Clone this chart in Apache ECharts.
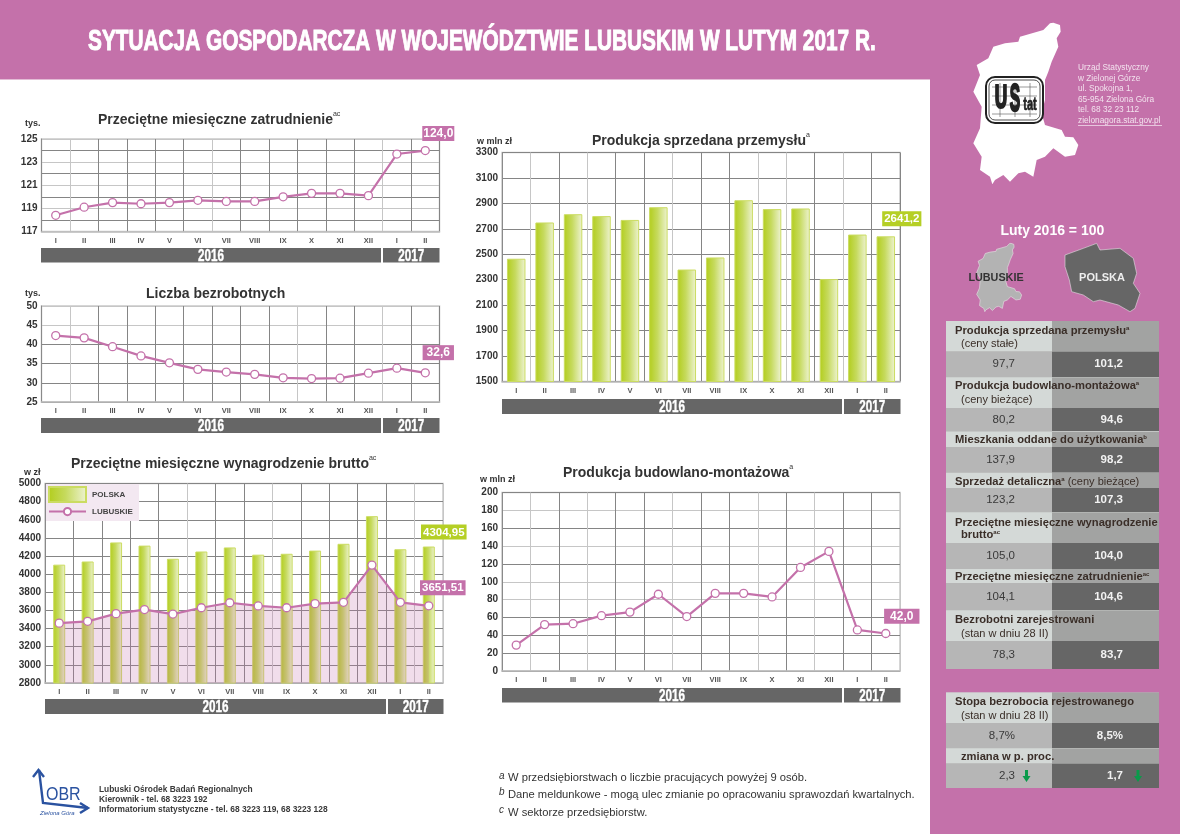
<!DOCTYPE html>
<html><head><meta charset="utf-8"><style>html,body{margin:0;padding:0;background:#fff}#c{width:1180px;height:834px}</style>
<script src="https://cdn.jsdelivr.net/npm/echarts@6/dist/echarts.min.js"></script></head>
<body><div id="c"></div>
<script>
const months = ['I','II','III','IV','V','VI','VII','VIII','IX','X','XI','XII','I','II'];
const zatrudnienie = [118.4,119.1,119.5,119.4,119.5,119.7,119.6,119.6,120.0,120.3,120.3,120.1,123.7,124.0];
const bezrobotni = [42.3,41.7,39.4,37.0,35.2,33.5,32.8,32.2,31.3,31.1,31.2,32.5,33.8,32.6];
const wynagrodzeniePolska = [4105,4140,4350,4315,4170,4250,4295,4215,4225,4260,4335,4640,4275,4304.95];
const wynagrodzenieLubuskie = [3460,3480,3565,3610,3560,3630,3685,3650,3630,3675,3690,4100,3690,3651.51];
const przemysl = [2465,2750,2815,2800,2770,2870,2380,2475,2925,2855,2860,2305,2655,2641.2];
const budownictwo = [29,52,53,62,66,86,61,87,87,83,116,134,46,42.0];

const PINK='#c471aa', GREEN='#b5cf25', BAND='#666666', TXT='#333333';
const FONT='"Liberation Sans",Arial,sans-serif';
const DK='#858585', LT='#c6c6c6';

const grids=[
 {x:41.5,y:139,w:398,h:92.5},
 {x:41.5,y:306,w:398,h:96},
 {x:45,y:483.5,w:398,h:199.5},
 {x:502,y:152.5,w:398,h:229},
 {x:502,y:492.5,w:398,h:178.5}
];
const yCfg=[
 {min:117,max:125,interval:1,show:2,h:[LT,DK,LT,DK,LT,DK,LT,DK,LT]},
 {min:25,max:50,interval:5,show:1,h:[DK,DK,DK,DK,LT,LT]},
 {min:2800,max:5000,interval:200,show:1,h:[DK]},
 {min:1500,max:3300,interval:100,show:2,h:[DK,'rgba(0,0,0,0)']},
 {min:0,max:200,interval:20,show:1,h:[DK,DK,DK,DK,LT,LT,DK,LT,DK,LT,DK]}
];
const vLines=[
 [LT,LT,DK,DK,DK,DK,LT,DK,DK,DK,DK,DK,LT,DK,DK],
 [LT,LT,DK,DK,DK,DK,DK,DK,DK,LT,DK,DK,LT,DK,DK],
 [LT,DK,DK,DK,DK,LT,DK,DK,LT,DK,DK,DK,DK,LT,LT],
 [LT,LT,DK,LT,DK,DK,LT,DK,DK,LT,LT,DK,LT,DK,DK],
 [LT,LT,DK,LT,DK,DK,LT,DK,DK,LT,DK,LT,DK,DK,LT]
];
const grid=grids.map(g=>({left:g.x,top:g.y,width:g.w,height:g.h,show:true,borderColor:'#c9c9c9',borderWidth:1.5,backgroundColor:'#fff'}));
const xAxis=grids.map((g,i)=>({gridIndex:i,type:'category',data:months,boundaryGap:true,
  axisLine:{lineStyle:{color:'#bdbdbd',width:1.5}},axisTick:{show:false},
  axisLabel:{interval:0,fontSize:7.5,fontWeight:'bold',color:'#555',margin:5,fontFamily:FONT},
  splitLine:{show:true,interval:0,lineStyle:{color:vLines[i],width:1}}}));
const yAxis=yCfg.map((c,i)=>({gridIndex:i,type:'value',min:c.min,max:c.max,interval:c.interval,
  axisLine:{show:true,lineStyle:{color:'#8a8a8a',width:1}},
  axisTick:{show:false},
  axisLabel:{fontSize:10,fontWeight:'bold',color:TXT,margin:4,fontFamily:FONT,
    formatter:v=>(Math.round((v-c.min)/c.interval)%c.show===0)?String(v):''},
  splitLine:{show:true,lineStyle:{color:c.h,width:1}}}));

function endLabel(text,bg,offset,fs,pad){
  return {show:true,position:'top',offset,formatter:text,color:'#fff',fontWeight:'bold',
    fontSize:fs||12,fontFamily:FONT,backgroundColor:bg,padding:pad||[1,2,0,2],lineHeight:14};
}
function lineSeries(name,i,vals,label,extra){
  const data=vals.map((v,k)=>k===vals.length-1?{value:v,label}:v);
  return Object.assign({name,type:'line',xAxisIndex:i,yAxisIndex:i,data,symbol:'circle',symbolSize:8,showSymbol:true,
    lineStyle:{color:PINK,width:2.2},itemStyle:{color:'#fff',borderColor:PINK,borderWidth:1.3},animation:false,z:5},extra||{});
}
function barSeries(name,i,vals,label,w){
  const data=vals.map((v,k)=>k===vals.length-1?{value:v,label}:v);
  return {name,type:'bar',xAxisIndex:i,yAxisIndex:i,data,barWidth:w,animation:false,z:3,
    itemStyle:{color:new echarts.graphic.LinearGradient(0,0,1,0,[{offset:0,color:'#b2cd1c'},{offset:0.45,color:'#c6da5e'},{offset:1,color:'#eef3d3'}]),borderColor:'#cbdc62',borderWidth:1}};
}
const series=[
 lineSeries('Zatrudnienie',0,zatrudnienie,endLabel('124,0',PINK,[13,0],12,[1,1,0,1])),
 lineSeries('Bezrobotni',1,bezrobotni,endLabel('32,6',PINK,[13,-3],12,[1,4,0,4])),
 barSeries('POLSKA',2,wynagrodzeniePolska,endLabel('4304,95',GREEN,[15,-2],11.5),12),
 lineSeries('LUBUSKIE',2,wynagrodzenieLubuskie,endLabel('3651,51',PINK,[14,-1],11.5),{areaStyle:{color:'rgba(196,113,170,0.34)'},z:6}),
 barSeries('Przemysł',3,przemysl,endLabel('2641,2',GREEN,[16,-5],11.5),18.5),
 lineSeries('Budownictwo',4,budownictwo,endLabel('42,0',PINK,[16,0],12,[1,6,0,6]))
];

// titles
const SUP={fontSize:7,fontWeight:'normal',color:TXT,verticalAlign:'top',lineHeight:10,padding:[0,0,6,0]};
function mkTitle(text,sup,left,top){
  return {text:'{t|'+text+'}'+(sup?'{s|'+sup+'}':''),left,top,padding:0,
    textStyle:{fontFamily:FONT,rich:{t:{fontSize:14,fontWeight:'bold',color:TXT,fontFamily:FONT,lineHeight:18},s:Object.assign({fontFamily:FONT},SUP)}}};
}
const title=[
 mkTitle('Przeciętne miesięczne zatrudnienie','ac',98,111),
 mkTitle('Liczba bezrobotnych','',146,285),
 mkTitle('Przeciętne miesięczne wynagrodzenie brutto','ac',71,455),
 mkTitle('Produkcja sprzedana przemysłu','a',592,132),
 mkTitle('Produkcja budowlano-montażowa','a',563,464)
];

// decorative / layout graphics
const g=[];
function rect(x,y,w,h,fill,z,extra){g.push(Object.assign({type:'rect',shape:{x,y,width:w,height:h},style:{fill},z:z||0,silent:true},extra||{}));}
function text(t,x,y,o){o=o||{};const st={text:t,fill:o.fill||TXT,font:(o.style?o.style+' ':'')+(o.weight||'normal')+' '+(o.size||11)+'px '+(o.family||FONT),textAlign:o.align||'left',textVerticalAlign:'middle'};
  if(o.stroke){st.stroke=o.stroke;st.lineWidth=o.lw||.6;}
  g.push({type:'text',x,y,z:o.z||20,silent:true,scaleX:o.sx||1,scaleY:o.sy||1,style:st});}
function rich(parts,x,y,z){
  const r={},s=parts.map((p,i)=>{r['p'+i]=p.st;return '{p'+i+'|'+p.t+'}';}).join('');
  g.push({type:'text',x,y,z:z||20,silent:true,style:{text:s,rich:r,textVerticalAlign:'middle',font:'11px '+FONT}});
}
rect(0,0,930,79,PINK,0);
rect(0,79,930,1,'#e3bcd6',0);
rect(930,0,250,834,PINK,0);
text('SYTUACJA GOSPODARCZA W WOJEWÓDZTWIE LUBUSKIM W LUTYM 2017 R.',88,42,{fill:'#fff',weight:'bold',size:29,sx:0.718,stroke:'#fff',lw:1});

// year bands
function yearBand(x1,x2,x3,y,h){
  rect(x1,y,x2-x1,h,BAND,8); rect(x2+2,y,x3-x2-2,h,BAND,8);
  text('2016',(x1+x2)/2,y+h/2+1,{fill:'#fff',weight:'bold',size:16,align:'center',sx:.73,stroke:'#fff',lw:.4});
  text('2017',(x2+2+x3)/2,y+h/2+1,{fill:'#fff',weight:'bold',size:16,align:'center',sx:.73,stroke:'#fff',lw:.4});
}
yearBand(41,381,439.5,248,14.5);
yearBand(41,381,439.5,418,15);
yearBand(45,386,443.5,699,15);
yearBand(502,842,900.5,399,15);
yearBand(502,842,900.5,688,14.5);

// unit labels
text('tys.',25,124,{weight:'bold',size:9});
text('tys.',25,294,{weight:'bold',size:9});
text('w zł',24,473,{weight:'bold',size:9});
text('w mln zł',477,142,{weight:'bold',size:9});
text('w mln zł',480,480,{weight:'bold',size:9});

// legend backdrop
rect(46,484,93,37,'#f3e8f1',9);

// maps
const lub=[[370,68],[390,75],[392,95],[380,115],[385,140],[365,185],[355,215],[345,240],[345,300],[335,340],[345,375],[395,390],[405,410],[430,412],[445,435],[435,465],[405,470],[370,445],[345,470],[320,480],[310,530],[285,515],[265,520],[240,545],[220,525],[195,540],[187,553],[180,530],[150,510],[155,470],[130,430],[150,385],[155,320],[130,275],[150,225],[140,195],[175,175],[190,140],[225,130],[265,125],[270,110],[340,90],[360,70]];
const pol=[[405,765],[460,745],[500,730],[510,750],[570,745],[610,775],[620,820],[610,850],[630,880],[615,925],[600,935],[565,915],[510,900],[490,905],[460,885],[425,875],[418,840],[405,800]];
const Z=p=>[930+p[0]/3,p[1]/3];
g.push({type:'polygon',z:2,silent:true,shape:{points:lub.map(Z)},style:{fill:'#fff'}});
const small=lub.map(p=>[140+(p[0]-130)*135/315,730+(p[1]-68)*205/485]);
g.push({type:'polygon',z:2,silent:true,shape:{points:small.map(Z)},style:{fill:'#b3b3b3',stroke:'#e8e0e6',lineWidth:.6}});
g.push({type:'polygon',z:2,silent:true,shape:{points:pol.map(Z)},style:{fill:'#666',stroke:'#e8dfe6',lineWidth:.6}});
text('LUBUSKIE',930+198/3,278,{weight:'bold',size:10.8,align:'center',fill:'#333',z:4});
text('POLSKA',930+516/3,278,{weight:'bold',size:11,align:'center',fill:'#eee',z:4});
text('Luty 2016 = 100',930+367/3,231,{weight:'bold',size:14,align:'center',fill:'#fff'});
// logo US
g.push({type:'rect',z:3,silent:true,shape:{x:986,y:77,width:57,height:46,r:9},style:{fill:'#fff',stroke:'#222',lineWidth:2}});
g.push({type:'rect',z:3,silent:true,shape:{x:989,y:80,width:51,height:40,r:6},style:{fill:'#fff',stroke:'#222',lineWidth:.8}});
[87,96,105,114].forEach(y=>g.push({type:'line',z:3,silent:true,shape:{x1:992,y1:y,x2:1037,y2:y},style:{stroke:'#555',lineWidth:.6}}));
[1000,1015,1030].forEach(x=>g.push({type:'line',z:3,silent:true,shape:{x1:x,y1:83,x2:x,y2:117},style:{stroke:'#555',lineWidth:.6}}));
text('U',1001,99,{weight:'bold',size:24,align:'center',fill:'#222',sx:.72,sy:1.35,z:4,stroke:'#222',lw:1.6});
text('S',1015,100,{weight:'bold',size:26,align:'center',fill:'#222',sx:.6,sy:1.5,z:4,stroke:'#222',lw:1.6});
text('tat',1030,105,{weight:'bold',size:13,align:'center',fill:'#222',sx:.85,sy:1.35,z:4,stroke:'#222',lw:.5});
// address
['Urząd Statystyczny','w Zielonej Górze','ul. Spokojna 1,','65-954 Zielona Góra','tel. 68 32 23 112','zielonagora.stat.gov.pl'].forEach((t,i)=>text(t,1078,68+i*10.55,{size:8.3,fill:'#f3e2ee'}));
rect(1078,125,84,.7,'#f3e2ee',3);

// table
const X0=946,XM=1052,X1=1159;
const HL='#d4d9d7',HR='#a2a3a2',VL='#b6b6b6',VR='#666666',TH='#3a2e28';
rect(X0,321,X1-X0,348,'#c4c6c5',1);
rect(X0,692.5,X1-X0,95.5,'#c4c6c5',1);
function header(y0,y1){rect(X0,y0,XM-X0,y1-y0,HL,2);rect(XM,y0,X1-XM,y1-y0,HR,2);}
function values(y0,y1,a,b){rect(X0,y0,XM-X0,y1-y0,VL,2);rect(XM,y0,X1-XM,y1-y0,VR,2);
  const m=(y0+y1)/2;text(a,1015,m,{size:11.5,align:'right',fill:'#3a3a3a',z:21});text(b,1123,m,{size:11.5,weight:'bold',align:'right',fill:'#f2f2f2',z:21});}
const B={fontSize:11.2,fontWeight:'bold',fill:TH,fontFamily:FONT}, S={fontSize:6,fontWeight:'bold',fill:TH,fontFamily:FONT,verticalAlign:'top',padding:[0,0,5,0]};
function h1(t,sup,y){rich([{t,st:B}].concat(sup?[{t:sup,st:S}]:[]),955,y);}
function h2(t,y,bold){text(t,961,y,{size:bold?11.2:11,weight:bold?'bold':'normal',fill:TH});}
header(321,351);values(351.5,377,'97,7','101,2');h1('Produkcja sprzedana przemysłu','a',331);h2('(ceny stałe)',344);
header(377.5,408);values(408,431,'80,2','94,6');h1('Produkcja budowlano-montażowa','a',386);h2('(ceny bieżące)',400);
header(432,447);values(447,472.5,'137,9','98,2');h1('Mieszkania oddane do użytkowania','b',440);
header(473,488);values(488,512,'123,2','107,3');
rich([{t:'Sprzedaż detaliczna',st:B},{t:'a',st:S},{t:' (ceny bieżące)',st:{fontSize:11,fill:TH,fontFamily:FONT}}],955,482);
header(512.5,543);values(543,569,'105,0','104,0');h1('Przeciętne miesięczne wynagrodzenie','',523);
rich([{t:'brutto',st:B},{t:'ac',st:S}],961,535);
header(569,583);values(583,610,'104,1','104,6');h1('Przeciętne miesięczne zatrudnienie','ac',577);
header(610.5,641);values(641,669,'78,3','83,7');h1('Bezrobotni zarejestrowani','',620);h2('(stan w dniu 28 II)',634);
header(692.5,723);values(723,748,'8,7%','8,5%');h1('Stopa bezrobocia rejestrowanego','',702);h2('(stan w dniu 28 II)',716);
header(748.5,763);values(763.5,788,'2,3','1,7');h2('zmiana w p. proc.',757,true);
function arrow(x,y){g.push({type:'polygon',z:22,silent:true,shape:{points:[[x-1.5,y-6],[x+1.5,y-6],[x+1.5,y],[x+4,y],[x,y+6],[x-4,y],[x-1.5,y]]},style:{fill:'#0a9a4a'}});}
arrow(1026.5,776);arrow(1138,776);

// footer
const LB='#2a52a0';
g.push({type:'polyline',z:3,silent:true,shape:{points:[[33,777],[38.5,770],[44,777]]},style:{stroke:LB,fill:'none',lineWidth:2.4}});
g.push({type:'polyline',z:3,silent:true,shape:{points:[[39,770],[43,803],[88,808]]},style:{stroke:LB,fill:'none',lineWidth:2.4}});
g.push({type:'polyline',z:3,silent:true,shape:{points:[[80,803],[88,808],[80,813]]},style:{stroke:LB,fill:'none',lineWidth:2.4}});
text('OBR',46,795,{size:16,fill:LB,sy:1.1});
text('Zielona Góra',40,813.5,{size:6,fill:LB,style:'italic'});
['Lubuski Ośrodek Badań Regionalnych','Kierownik - tel. 68 3223 192','Informatorium statystyczne - tel. 68 3223 119, 68 3223 128'].forEach((t,i)=>text(t,99,790+i*9.6,{size:8.4,weight:'bold',fill:'#3a3a3a'}));
[['a','W przedsiębiorstwach o liczbie pracujących powyżej 9 osób.',778],['b','Dane meldunkowe - mogą ulec zmianie po opracowaniu sprawozdań kwartalnych.',794.5],['c','W sektorze przedsiębiorstw.',812.5]].forEach(r=>{
  text(r[0],499,r[2]-2,{size:10,fill:TXT,style:'italic'});
  text(r[1],508,r[2],{size:11.2,fill:TXT});
});

const legendBase={left:48,orient:'horizontal',selectedMode:false,padding:0,itemWidth:37,z:10,
  textStyle:{fontSize:8,fontWeight:'bold',color:'#444',fontFamily:FONT,padding:[0,0,0,1]}};
const chart=echarts.init(document.getElementById('c'),null,{renderer:'canvas'});
chart.setOption({animation:false,backgroundColor:'#fff',title,grid,xAxis,yAxis,series,
  legend:[
    Object.assign({},legendBase,{top:486,itemHeight:15,data:[{name:'POLSKA',icon:'rect'}]}),
    Object.assign({},legendBase,{top:507,itemHeight:9,data:[{name:'LUBUSKIE'}]})
  ],
  graphic:{elements:g}});
</script></body></html>
